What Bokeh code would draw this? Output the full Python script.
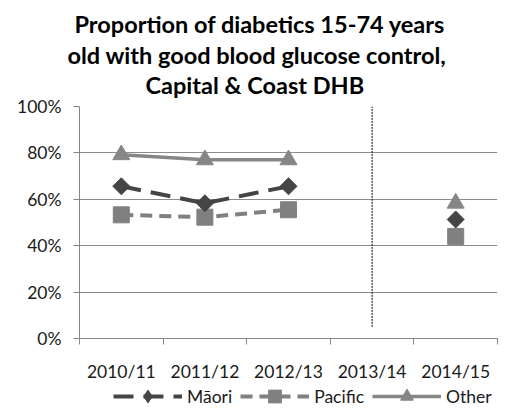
import math
from bokeh.plotting import figure
from bokeh.layouts import column
from bokeh.models import (FixedTicker, NumeralTickFormatter, Title,
                          Legend, LegendItem, Range1d)
from bokeh.embed import file_html
from bokeh.resources import INLINE

# ---- data ----
years = ["2010/11", "2011/12", "2012/13", "2013/14", "2014/15"]
maori_years = ["2010/11", "2011/12", "2012/13"]
maori = [0.656, 0.583, 0.656]
maori_late_years = ["2014/15"]
maori_late = [0.513]
pacific_years = ["2010/11", "2011/12", "2012/13"]
pacific = [0.533, 0.523, 0.555]
pacific_late_years = ["2014/15"]
pacific_late = [0.44]
other_years = ["2010/11", "2011/12", "2012/13"]
other = [0.792, 0.77, 0.77]
other_late_years = ["2014/15"]
other_late = [0.583]
break_year = "2013/14"
break_span = [0.05, 1.0]
y_ticks = [0, 0.2, 0.4, 0.6, 0.8, 1.0]
title_lines = ["Proportion of diabetics 15-74  years",
               "old with good blood glucose control,",
               "Capital & Coast DHB"]
series_names = ["Māori", "Pacific", "Other"]

FONT = "Lato"
TICK_FS = "17.5px"
C_M = "#454545"
C_P = "#808080"
C_O = "#868686"
idx = {y: i + 0.5 for i, y in enumerate(years)}


def xs(labels):
    return [idx[l] for l in labels]


p = figure(width=524, height=384, output_backend="svg", toolbar_location=None,
           x_range=Range1d(0, len(years)), y_range=Range1d(0, 1.0),
           min_border_left=79, min_border_right=27, min_border_bottom=39,
           min_border_top=106)
p.outline_line_color = None
p.background_fill_color = "white"
p.border_fill_color = "white"

# titles (added bottom-up, left aligned with per-line offsets to mimic centring)
title_offsets = [-5, -12, 66]
title_standoffs = [7, -6, 11]
title_valign = ["bottom", "bottom", "top"]
for txt, off, so_, va in reversed(list(zip(title_lines, title_offsets,
                                           title_standoffs, title_valign))):
    p.add_layout(Title(text=txt, align="left", vertical_align=va, text_font=FONT,
                       text_font_size="23.5px", text_font_style="bold",
                       text_color="#000000", offset=off, standoff=so_), "above")

# axes
p.xaxis.ticker = FixedTicker(ticks=[idx[y] for y in years],
                             minor_ticks=list(range(len(years) + 1)))
p.xaxis.major_label_overrides = {idx[y]: y for y in years}
p.xaxis.major_tick_line_color = None
p.xaxis.major_tick_out = 0
p.xaxis.major_tick_in = 0
p.xaxis.minor_tick_out = 6
p.xaxis.minor_tick_in = 0
p.xaxis.minor_tick_line_color = "#868686"
p.xaxis.axis_line_color = "#868686"
p.xaxis.major_label_standoff = 16
p.xaxis.major_label_text_font = FONT
p.xaxis.major_label_text_font_size = TICK_FS
p.xaxis.major_label_text_color = "#1a1a1a"

p.yaxis.ticker = FixedTicker(ticks=y_ticks)
p.yaxis.formatter = NumeralTickFormatter(format="0%")
p.yaxis.minor_tick_line_color = None
p.yaxis.major_tick_out = 6
p.yaxis.major_tick_in = 0
p.yaxis.major_tick_line_color = "#868686"
p.yaxis.axis_line_color = "#868686"
p.yaxis.major_label_standoff = 12
p.yaxis.major_label_text_font = FONT
p.yaxis.major_label_text_font_size = TICK_FS
p.yaxis.major_label_text_color = "#1a1a1a"

p.xgrid.grid_line_color = None
p.ygrid.ticker = FixedTicker(ticks=y_ticks)
p.ygrid.grid_line_color = "#8c8c8c"
p.ygrid.grid_line_width = 1

# dotted break line
p.line([idx[break_year]] * 2, break_span, line_color="black", line_width=1,
       line_dash="2 1")

# Other
p.line(xs(other_years), other, line_color=C_O, line_width=3.5)
p.scatter(xs(other_years), other, marker="triangle", size=17, color=C_O)
p.scatter(xs(other_late_years), other_late, marker="triangle", size=17, color=C_O)

# Pacific
p.line(xs(pacific_years), pacific, line_color=C_P, line_width=4, line_dash="12 7")
p.scatter(xs(pacific_years), pacific, marker="square", size=16, color=C_P)
p.scatter(xs(pacific_late_years), pacific_late, marker="square", size=16, color=C_P)

# Maori
p.line(xs(maori_years), maori, line_color=C_M, line_width=4, line_dash="20 10")
p.scatter(xs(maori_years), maori, marker="square", angle=math.pi / 4, size=12, color=C_M)
p.scatter(xs(maori_late_years), maori_late, marker="square", angle=math.pi / 4, size=12,
          color=C_M)

# ---- legend strip (separate small figure; its glyph renderers sit outside its view) ----
leg = figure(width=524, height=34, output_backend="svg", toolbar_location=None,
             x_range=Range1d(0, len(years)), y_range=Range1d(10, 11),
             x_axis_location=None, y_axis_location=None,
             min_border=0, min_border_left=0, min_border_right=0,
             min_border_top=0, min_border_bottom=0)
leg.outline_line_color = None
leg.xgrid.visible = False
leg.ygrid.visible = False

rm_l = leg.line(xs(maori_years), maori, line_color=C_M, line_width=4, line_dash="20 10")
rm_s = leg.scatter(xs(maori_years), maori, marker="diamond", size=12, color=C_M)
rp_l = leg.line(xs(pacific_years), pacific, line_color=C_P, line_width=4, line_dash="12 7")
rp_s = leg.scatter(xs(pacific_years), pacific, marker="square", size=16, color=C_P)
ro_l = leg.line(xs(other_years), other, line_color=C_O, line_width=3.5)
ro_s = leg.scatter(xs(other_years), other, marker="triangle", size=17, color=C_O)

legend = Legend(items=[LegendItem(label=series_names[0], renderers=[rm_l, rm_s]),
                       LegendItem(label=series_names[1], renderers=[rp_l, rp_s]),
                       LegendItem(label=series_names[2], renderers=[ro_l, ro_s])],
                orientation="horizontal", location=(34, 6),
                glyph_width=69, glyph_height=32, label_standoff=5, spacing=8,
                padding=0, margin=0, border_line_color=None,
                background_fill_alpha=0,
                label_text_font=FONT, label_text_font_size=TICK_FS,
                label_text_color="#1a1a1a")
leg.add_layout(legend, "center")

layout = column(p, leg, spacing=0)
open("out.html", "w").write(file_html(layout, INLINE))
